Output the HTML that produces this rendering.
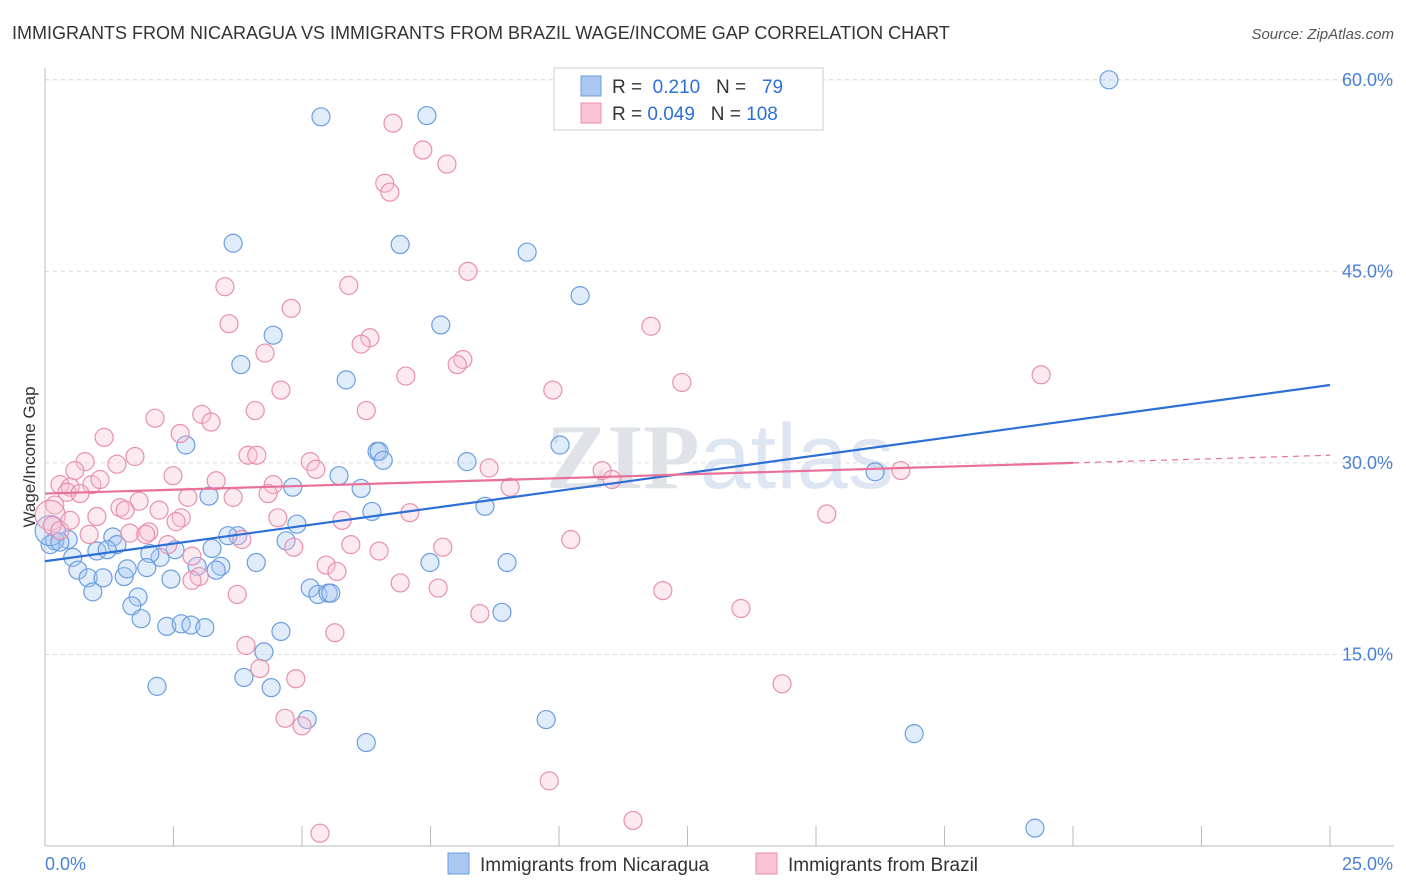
<!DOCTYPE html>
<html><head><meta charset="utf-8"><style>
body{margin:0;background:#fff;font-family:"Liberation Sans",sans-serif;}
#wrap{position:relative;width:1406px;height:892px;overflow:hidden;}
</style></head><body>
<div id="wrap">
<svg id="svg" width="1406" height="892" xmlns="http://www.w3.org/2000/svg">
<text x="12" y="39" font-size="18" fill="#333">IMMIGRANTS FROM NICARAGUA VS IMMIGRANTS FROM BRAZIL WAGE/INCOME GAP CORRELATION CHART</text>
<text x="1394" y="39" font-size="15" fill="#555" font-style="italic" text-anchor="end">Source: ZipAtlas.com</text>
<text x="720" y="488" font-size="92" fill="#e6e9ee" text-anchor="middle" font-family="Liberation Serif"><tspan font-weight="bold" fill="#dfe2e6">ZIP</tspan><tspan fill="#dde6f2" font-family="Liberation Sans">atlas</tspan></text>
<g id="grid"></g><g id="axes"></g><g id="pts"></g><g id="lines"></g>
<text x="35" y="457" font-size="17" fill="#333" text-anchor="middle" transform="rotate(-90 35 457)">Wage/Income Gap</text>
<g>
<rect x="554" y="68" width="269" height="62" fill="#fff" stroke="#ccc"/>
<rect x="581" y="76" width="20" height="20" fill="#aac8f0" stroke="#6a9ee0"/>
<rect x="581" y="103" width="20" height="20" fill="#f8c4d4" stroke="#e890ad"/>
<text x="612" y="93" font-size="19" fill="#333">R = <tspan fill="#2d6fd6">&#160;0.210</tspan>&#160;&#160;&#160;N = <tspan fill="#2d6fd6">&#160;&#160;79</tspan></text>
<text x="612" y="120" font-size="19" fill="#333">R = <tspan fill="#2d6fd6">0.049</tspan>&#160;&#160;&#160;N = <tspan fill="#2d6fd6">108</tspan></text>
</g>
<g>
<rect x="448" y="853" width="21" height="21" fill="#aac8f0" stroke="#6a9ee0"/>
<text x="480" y="871" font-size="19" fill="#333">Immigrants from Nicaragua</text>
<rect x="756" y="853" width="21" height="21" fill="#f8c4d4" stroke="#e890ad"/>
<text x="788" y="871" font-size="19" fill="#333">Immigrants from Brazil</text>
</g>
</svg>
</div>
<script>
const xTicks=[0,2.5,5,7.5,10,12.5,15,17.5,20,22.5,25];
const yTicks=[15,30,45,60];
const yTickLabels=["15.0%","30.0%","45.0%","60.0%"];
const xTickLabels=["0.0%","25.0%"];
const blueX=[20.7,5.37,7.43,3.66,6.91,9.38,10.41,4.44,7.70,3.81,5.86,2.74,6.46,6.50,6.58,10.02,8.21,16.15,5.72,4.82,6.15,3.19,8.56,6.36,4.90,4.69,3.75,3.56,3.25,2.53,2.24,2.04,1.32,1.40,1.01,1.21,0.45,0.19,0.10,0.54,0.64,0.84,1.13,1.54,1.60,1.98,2.45,2.96,3.42,3.33,4.11,7.49,8.99,1.81,1.69,0.93,1.87,2.37,2.65,2.84,3.11,5.16,5.31,5.51,5.56,8.89,4.59,4.26,3.87,4.40,2.18,5.10,9.75,16.91,6.25,19.26,0.10,0.29];
const blueY=[60.0,57.1,57.2,47.2,47.1,46.5,43.1,40.0,40.8,37.7,36.5,31.4,30.9,30.9,30.2,31.4,30.1,29.3,29.0,28.1,28.0,27.4,26.6,26.2,25.2,23.9,24.3,24.3,23.3,23.2,22.6,22.9,24.2,23.6,23.1,23.2,24.0,23.9,23.6,22.6,21.6,21.0,21.0,21.1,21.7,21.8,20.9,21.9,21.9,21.6,22.2,22.2,22.2,19.5,18.8,19.9,17.8,17.2,17.4,17.3,17.1,20.2,19.7,19.8,19.8,18.3,16.8,15.2,13.2,12.4,12.5,9.9,9.9,8.8,8.1,1.4,24.7,23.8];
const pinkX=[6.77,7.35,7.82,6.61,6.71,8.23,3.50,5.91,4.79,3.58,11.79,6.32,6.15,4.28,8.13,8.02,7.02,12.39,19.38,9.88,4.59,2.14,6.25,4.09,3.05,3.23,1.15,2.63,3.95,4.12,1.75,5.16,0.78,1.40,0.58,5.27,8.64,10.84,11.03,16.65,2.49,3.33,4.44,0.29,0.49,0.91,1.07,0.43,0.68,2.78,3.66,4.34,9.05,1.83,1.46,1.56,2.22,1.01,2.65,2.55,4.53,5.78,7.10,15.21,0.19,0.10,0.14,0.29,0.86,1.65,2.02,1.96,2.39,3.83,4.84,5.95,7.74,10.23,6.50,2.86,5.47,5.68,3.00,2.86,6.91,7.65,12.02,3.74,8.46,13.54,5.64,3.91,4.18,4.88,14.34,4.67,5.00,9.81,11.44,5.35,0.49];
const pinkY=[56.6,54.5,53.4,51.9,51.2,45.0,43.8,43.9,42.1,40.9,40.7,39.8,39.3,38.6,38.1,37.7,36.8,36.3,36.9,35.7,35.7,33.5,34.1,34.1,33.8,33.2,32.0,32.3,30.6,30.6,30.5,30.1,30.1,29.9,29.4,29.5,29.6,29.4,28.7,29.4,29.0,28.6,28.3,28.3,28.1,28.3,28.7,27.7,27.6,27.3,27.3,27.6,28.1,27.0,26.5,26.3,26.3,25.8,25.7,25.4,25.7,25.5,26.1,26.0,26.7,25.9,25.1,24.7,24.4,24.5,24.6,24.4,23.6,24.0,23.4,23.6,23.4,24.0,23.1,22.7,22.0,21.5,21.1,20.8,20.6,20.2,20.0,19.7,18.2,18.6,16.7,15.7,13.9,13.1,12.7,10.0,9.4,5.1,2.0,1.0,25.5];
const blueTrend=[22.3,36.1];   // y at x=0, x=25
const pinkTrend=[27.6,30.6];   // y at x=0, x=25
const pinkSolidEnd=20;
const NS="http://www.w3.org/2000/svg";
const X0=45,X1=1330,Y0=846,PXV=12.77;
function sx(v){return X0+(X1-X0)*v/25;}
function sy(v){return Y0-v*PXV;}
function mk(tag,attrs,parent){const e=document.createElementNS(NS,tag);for(const k in attrs)e.setAttribute(k,attrs[k]);parent.appendChild(e);return e;}
const grid=document.getElementById('grid'),axes=document.getElementById('axes'),pts=document.getElementById('pts'),lines=document.getElementById('lines');
yTicks.forEach((t,i)=>{
  const l=mk('line',{x1:X0,x2:1394,y1:sy(t),y2:sy(t),stroke:'#dcdcdc','stroke-dasharray':'4,4'},grid);
  
  
  const tx=mk('text',{x:1393,y:sy(t)+6,'font-size':18,fill:'#4a80d6','text-anchor':'end'},axes);
  tx.textContent=yTickLabels[i];
  
  
});
const topL=mk('line',{x1:X0,x2:1394,y1:sy(60),y2:sy(60),stroke:'#dcdcdc','stroke-dasharray':'4,4'},grid);


const ya=mk('line',{x1:X0,x2:X0,y1:68,y2:Y0,stroke:'#bbb'},axes);


const xa=mk('line',{x1:X0,x2:1394,y1:Y0,y2:Y0,stroke:'#bbb'},axes);


xTicks.forEach(t=>{
  const l=mk('line',{x1:sx(t),x2:sx(t),y1:Y0,y2:Y0-20,stroke:'#bbb'},axes);
  
  
});
const xl0=mk('text',{x:45,y:870,'font-size':18,fill:'#4a80d6'},axes);xl0.textContent=xTickLabels[0];


const xl1=mk('text',{x:1393,y:870,'font-size':18,fill:'#4a80d6','text-anchor':'end'},axes);xl1.textContent=xTickLabels[1];


function drawPts(xs,ys,fill,stroke,name,bigIdx){
  xs.forEach((x,i)=>{
    const r=(bigIdx.includes(i))?15:9;
    const c=mk('circle',{cx:sx(x),cy:sy(ys[i]),r:r,fill:fill,'fill-opacity':0.35,stroke:stroke,'stroke-width':1.2},pts);
    
    
  });
}
drawPts(blueX,blueY,'#aac8f0','#6a9ee0','point-nicaragua',[76]);
drawPts(pinkX,pinkY,'#f8c4d4','#e890ad','point-brazil',[65]);
const bl=mk('line',{x1:sx(0),y1:sy(blueTrend[0]),x2:sx(25),y2:sy(blueTrend[1]),stroke:'#2d6fd6','stroke-width':2.2},lines);


const pAt=x=>pinkTrend[0]+(pinkTrend[1]-pinkTrend[0])*x/25;
const pl=mk('line',{x1:sx(0),y1:sy(pAt(0)),x2:sx(pinkSolidEnd),y2:sy(pAt(pinkSolidEnd)),stroke:'#e8709a','stroke-width':2.2},lines);


const pd=mk('line',{x1:sx(pinkSolidEnd),y1:sy(pAt(pinkSolidEnd)),x2:sx(25),y2:sy(pAt(25)),stroke:'#e8709a','stroke-width':1.2,'stroke-dasharray':'6,5'},lines);


</script>
</body></html>
